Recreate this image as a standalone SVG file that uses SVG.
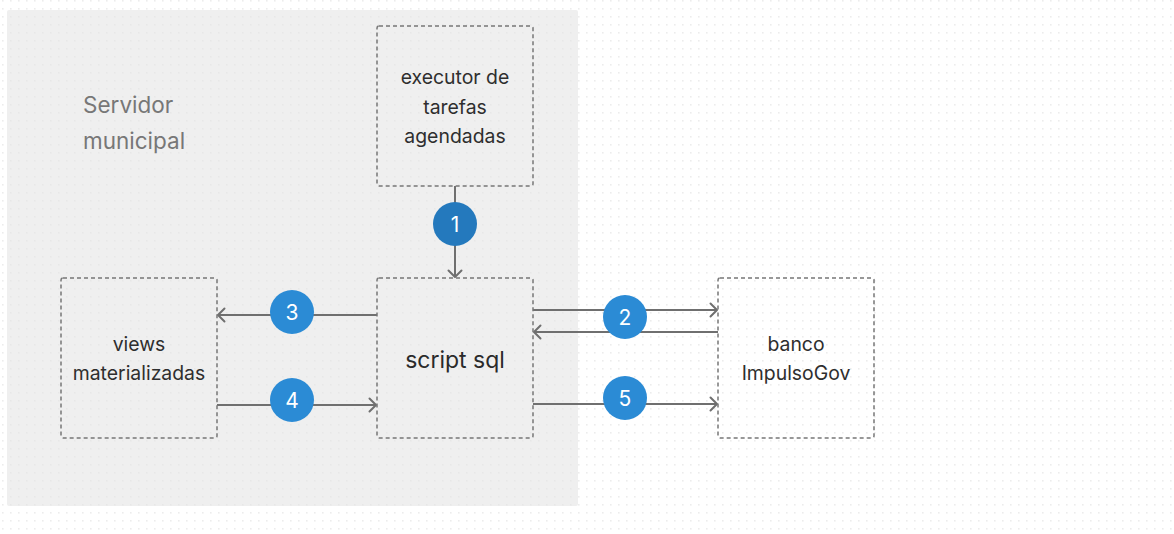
<svg xmlns="http://www.w3.org/2000/svg" width="1174" height="534" viewBox="0 0 1174 534">
<defs>
<pattern id="dots" x="2" y="0" width="8" height="8" patternUnits="userSpaceOnUse">
<rect x="0" y="0" width="1.6" height="1.6" fill="#e4e4e4"/>
</pattern>
<marker id="arr" markerUnits="userSpaceOnUse" markerWidth="16" markerHeight="16" refX="8" refY="8" orient="auto" overflow="visible">
<path d="M1.5,1.5 L8,8 L1.5,14.5" fill="none" stroke="#6f6f6f" stroke-width="2" stroke-linecap="round" stroke-linejoin="round"/>
</marker>
</defs>
<style>
.box{fill:none;stroke:#777;stroke-width:1.5;stroke-dasharray:4 3}
.lbl{font-family:Inter,"Noto Sans",sans-serif;font-size:19.4px;fill:#2e2e2e;text-anchor:middle}
.big{font-family:Inter,"Noto Sans",sans-serif;font-size:23px;fill:#2a2a2a;text-anchor:middle}
.grp{font-family:Inter,"Noto Sans",sans-serif;font-size:22.5px;fill:#777}
.ln{fill:none;stroke:#6f6f6f;stroke-width:2}
.num{font-family:Inter,"Noto Sans",sans-serif;font-size:21px;fill:#fff;text-anchor:middle}
.c{fill:#2b8bd5}
.c1{fill:#2479bd}
</style>
<rect x="0" y="0" width="1174" height="534" fill="#fff"/>
<rect x="7" y="10" width="571" height="496" rx="2" fill="#efefef"/>
<rect x="0" y="0" width="1174" height="534" fill="url(#dots)" opacity="0.7"/>
<g id="servidor-municipal">
<text class="grp" x="83" y="112.5">Servidor</text>
<text class="grp" x="83" y="148.5">municipal</text>
</g>
<g id="connectors">
<g id="c1">
<line class="ln" x1="455" y1="186" x2="455" y2="277" marker-end="url(#arr)"/>
<circle class="c1" cx="455" cy="224" r="22"/>
<text class="num" x="455" y="231.5">1</text>
</g>
<g id="c2">
<line class="ln" x1="533" y1="310" x2="717" y2="310" marker-end="url(#arr)"/>
<line class="ln" x1="718" y1="332" x2="534" y2="332" marker-end="url(#arr)"/>
<circle class="c" cx="625" cy="317" r="22"/>
<text class="num" x="625" y="324.5">2</text>
</g>
<g id="c3">
<line class="ln" x1="377" y1="315" x2="218" y2="315" marker-end="url(#arr)"/>
<circle class="c" cx="292" cy="312" r="22"/>
<text class="num" x="292" y="319.5">3</text>
</g>
<g id="c4">
<line class="ln" x1="217" y1="405" x2="376" y2="405" marker-end="url(#arr)"/>
<circle class="c" cx="292" cy="400" r="22"/>
<text class="num" x="292" y="407.5">4</text>
</g>
<g id="c5">
<line class="ln" x1="533" y1="404" x2="717" y2="404" marker-end="url(#arr)"/>
<circle class="c" cx="625" cy="398" r="22"/>
<text class="num" x="625" y="405.5">5</text>
</g>
</g>
<g id="executor">
<rect class="box" x="377" y="26" width="156" height="160" rx="2"/>
<text class="lbl" x="455" y="83.5">executor de</text>
<text class="lbl" x="455" y="113.5">tarefas</text>
<text class="lbl" x="455" y="143">agendadas</text>
</g>
<g id="script-sql">
<rect class="box" x="377" y="278" width="156" height="160" rx="2"/>
<text class="big" x="455" y="367.5">script sql</text>
</g>
<g id="views">
<rect class="box" x="61" y="278" width="156" height="160" rx="2"/>
<text class="lbl" x="139" y="350.5">views</text>
<text class="lbl" x="139" y="379.5">materializadas</text>
</g>
<g id="banco">
<rect class="box" x="718" y="278" width="156" height="160" rx="2"/>
<text class="lbl" x="796" y="350.5">banco</text>
<text class="lbl" x="796" y="379.5">ImpulsoGov</text>
</g>
</svg>
